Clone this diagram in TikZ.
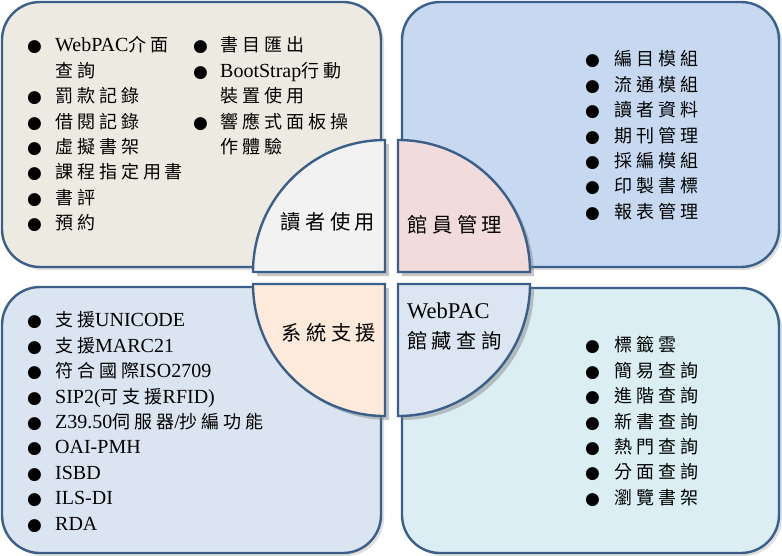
\documentclass[tikz,border=0pt]{standalone}
\usepackage{fontspec}
\setmainfont{Liberation Serif}
\newfontfamily\zhfont[Scale=0.9,LetterSpace=22]{Noto Sans CJK TC}
\newfontfamily\dotfont{DejaVu Sans}
\newcommand{\zh}[1]{{\zhfont #1}}
\newcommand{\dotmark}{{\dotfont\fontsize{17}{17}\selectfont ●}}
\usetikzlibrary{shadows}
\definecolor{edgeblue}{HTML}{3A5F8B}
\definecolor{readerbg}{HTML}{EDEBE1}
\definecolor{staffbg}{HTML}{C6D9F1}
\definecolor{systembg}{HTML}{DBE5F1}
\definecolor{opacbg}{HTML}{DAEEF3}
\definecolor{readerq}{HTML}{F2F2F2}
\definecolor{staffq}{HTML}{F2DCDB}
\definecolor{systemq}{HTML}{FDEADA}
\definecolor{opacq}{HTML}{DCE6F2}
\begin{document}
\begin{tikzpicture}[x=1pt,y=-1pt,
	panel/.style={draw=edgeblue,line width=2.4pt,rounded corners=38pt,
		drop shadow={shadow xshift=3pt,shadow yshift=-3pt,opacity=.25}},
	quarter/.style={draw=edgeblue,line width=2.4pt,
		drop shadow={shadow xshift=4pt,shadow yshift=-4pt,opacity=.45}},
	itemlist/.style={anchor=north west,inner sep=0pt,font=\fontsize{20}{25.4}\selectfont},
	qlabel/.style={inner sep=0pt,font=\fontsize{22.5}{30}\selectfont}]
		\useasboundingbox[fill=white] (0,0) rectangle (782,555);
		% four panels
		\path[panel,fill=readerbg] (2,2) rectangle (381,267);
		\path[panel,fill=staffbg] (402,2) rectangle (779,267);
		\path[panel,fill=systembg] (2,287) rectangle (381,553);
		\path[panel,fill=opacbg] (402,288) rectangle (779,553);
		% centre circle, four quarters
		\path[quarter,fill=readerq] (385,272)--(253,272) arc (180:270:132)--cycle;
		\path[quarter,fill=staffq] (398,272)--(398,140) arc (270:360:132)--cycle;
		\path[quarter,fill=systemq] (385,284)--(253,284) arc (180:90:132)--cycle;
		\path[quarter,fill=opacq] (398,284)--(530,284) arc (0:90:132)--cycle;
		\node[qlabel] (reader) at (328,222) {\zh{讀者使用}};
		\node[qlabel] (staff) at (455,225) {\zh{館員管理}};
		\node[qlabel] (system) at (329,333) {\zh{系統支援}};
		\node[qlabel,anchor=west,align=left] (opac) at (407,327) {WebPAC\\\zh{館藏查詢}};
		% lists
		\node[itemlist] (readerlistA) at (27,34) {\begin{tabular}{@{}p{28pt}@{}l@{}}
			\dotmark & WebPAC\zh{介面}\\
			& \zh{查詢}\\
			\dotmark & \zh{罰款記錄}\\
			\dotmark & \zh{借閱記錄}\\
			\dotmark & \zh{虛擬書架}\\
			\dotmark & \zh{課程指定用書}\\
			\dotmark & \zh{書評}\\
			\dotmark & \zh{預約}
		\end{tabular}};
		\node[itemlist] (readerlistB) at (193,34) {\begin{tabular}{@{}p{27pt}@{}l@{}}
			\dotmark & \zh{書目匯出}\\
			\dotmark & BootStrap\zh{行動}\\
			& \zh{裝置使用}\\
			\dotmark & \zh{響應式面板操}\\
			& \zh{作體驗}
		\end{tabular}};
		\node[itemlist] (stafflist) at (585,48) {\begin{tabular}{@{}p{29pt}@{}l@{}}
			\dotmark & \zh{編目模組}\\
			\dotmark & \zh{流通模組}\\
			\dotmark & \zh{讀者資料}\\
			\dotmark & \zh{期刊管理}\\
			\dotmark & \zh{採編模組}\\
			\dotmark & \zh{印製書標}\\
			\dotmark & \zh{報表管理}
		\end{tabular}};
		\node[itemlist] (systemlist) at (27,309) {\begin{tabular}{@{}p{28pt}@{}l@{}}
			\dotmark & \zh{支援}UNICODE\\
			\dotmark & \zh{支援}MARC21\\
			\dotmark & \zh{符合國際}ISO2709\\
			\dotmark & SIP2(\zh{可支援}RFID)\\
			\dotmark & Z39.50\zh{伺服器}/\zh{抄編功能}\\
			\dotmark & OAI-PMH\\
			\dotmark & ISBD\\
			\dotmark & ILS-DI\\
			\dotmark & RDA
		\end{tabular}};
		\node[itemlist] (opaclist) at (585,334) {\begin{tabular}{@{}p{29pt}@{}l@{}}
			\dotmark & \zh{標籤雲}\\
			\dotmark & \zh{簡易查詢}\\
			\dotmark & \zh{進階查詢}\\
			\dotmark & \zh{新書查詢}\\
			\dotmark & \zh{熱門查詢}\\
			\dotmark & \zh{分面查詢}\\
			\dotmark & \zh{瀏覽書架}
		\end{tabular}};
\end{tikzpicture}
\end{document}
